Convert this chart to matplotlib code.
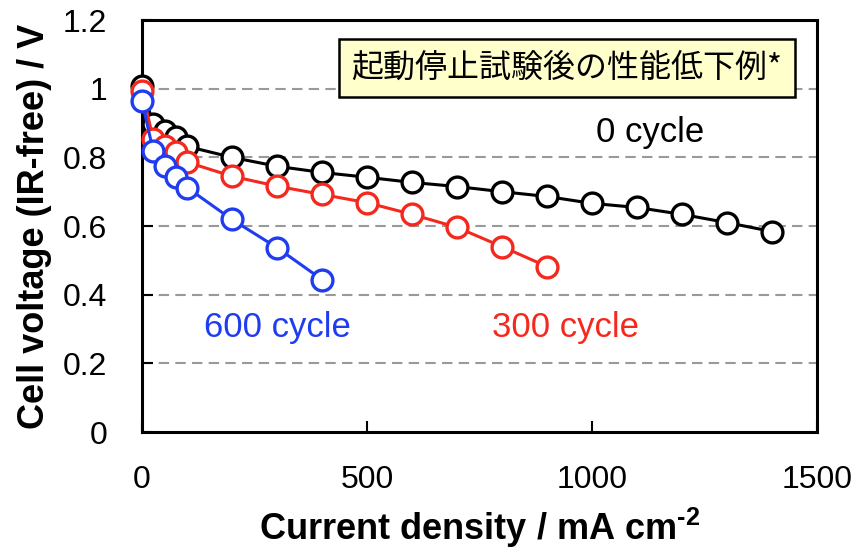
import matplotlib
matplotlib.use("Agg")
import matplotlib.pyplot as plt

plt.rcParams['font.family'] = ['Liberation Sans', 'Noto Sans CJK JP', 'DejaVu Sans']
plt.rcParams['mathtext.fontset'] = 'custom'
plt.rcParams['mathtext.rm'] = 'Liberation Sans:bold'

# current density (mA cm-2) and IR-free cell voltage (V)
x0 = [0, 25, 50, 75, 100, 200, 300, 400, 500, 600, 700, 800, 900, 1000, 1100, 1200, 1300, 1400]
v0 = [1.007, 0.896, 0.876, 0.858, 0.832, 0.800, 0.774, 0.756, 0.742, 0.727, 0.715, 0.700,
      0.686, 0.666, 0.654, 0.634, 0.610, 0.584]

x300 = [0, 25, 50, 75, 100, 200, 300, 400, 500, 600, 700, 800, 900]
v300 = [0.993, 0.853, 0.832, 0.815, 0.786, 0.745, 0.716, 0.692, 0.668, 0.634, 0.596, 0.540, 0.482]

x600 = [0, 25, 50, 75, 100, 200, 300, 400]
v600 = [0.963, 0.818, 0.774, 0.742, 0.712, 0.619, 0.537, 0.444]

series = [
    (x0, v0, "black"),
    (x300, v300, "#f5281e"),
    (x600, v600, "#1f3cf0"),
]

fig = plt.figure(figsize=(8.54, 5.5), dpi=100)
ax = fig.add_axes([0.1663, 0.2145, 0.7904, 0.7491])

for y in [0.2, 0.4, 0.6, 0.8, 1.0]:
    ax.axhline(y, color="#999999", lw=1.5, ls=(0, (5, 3)), zorder=0)

for xs, vs, c in series:
    ax.plot(xs, vs, color=c, lw=2.2, marker="o", ms=15, mfc="white", mec=c, mew=2.4,
            clip_on=False, zorder=3)

ax.set_xlim(0, 1500)
ax.set_ylim(0, 1.2)
ax.set_xticks([0, 500, 1000, 1500])
ax.set_yticks([0, 0.2, 0.4, 0.6, 0.8, 1.0, 1.2])
ax.set_yticklabels(["0", "0.2", "0.4", "0.6", "0.8", "1", "1.2"])
ax.tick_params(axis="x", direction="in", length=8, width=1.5, labelsize=23, pad=24)
ax.tick_params(axis="y", direction="in", length=8, width=1.5, labelsize=23, pad=25)
for s in ax.spines.values():
    s.set_linewidth(2.2)

ax.set_xlabel("Current density / mA cm$^{\\text{-2}}$", fontsize=26, fontweight="bold")
ax.set_ylabel("Cell voltage (IR-free) / V", fontsize=26, fontweight="bold")
ax.xaxis.set_label_coords(0.5, -0.18)
ax.yaxis.set_label_coords(-0.134, 0.5)

ax.text(1129, 0.873, "0 cycle", fontsize=25, color="black", ha="center", va="center")
ax.text(300, 0.304, "600 cycle", fontsize=25, color="#1f3cf0", ha="center", va="center")
ax.text(940, 0.304, "300 cycle", fontsize=25, color="#f5281e", ha="center", va="center")

ax.text(944, 1.06, "起動停止試験後の性能低下例*", fontsize=23, ha="center", va="center",
        family=['Noto Sans CJK JP', 'DejaVu Sans'],
        bbox=dict(boxstyle="square,pad=0.4", fc="#ffffcc", ec="black", lw=1.8), zorder=5)

fig.savefig("out.png", dpi=100)
